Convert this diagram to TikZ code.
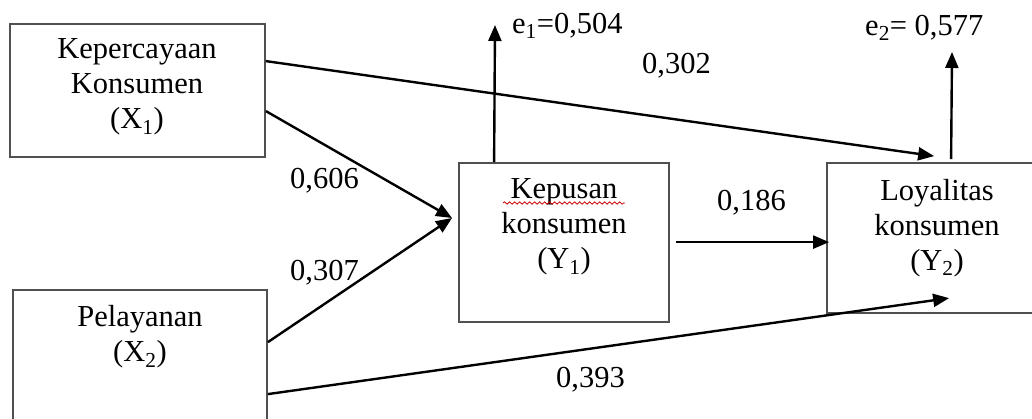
\documentclass[tikz,border=0pt]{standalone}
\usepackage{fontspec}
\setmainfont{Liberation Serif}
\usetikzlibrary{arrows.meta,decorations.pathmorphing}
\definecolor{boxgray}{RGB}{80,80,80}
\begin{document}
\begin{tikzpicture}[x=1pt,y=-1pt,
  box/.style={draw=boxgray,line width=1.8pt,inner sep=0pt},
  txt/.style={align=center,inner sep=0pt,font=\fontsize{30.5}{35}\selectfont},
  lbl/.style={anchor=base west,inner sep=0pt,font=\fontsize{30.5}{35}\selectfont},
  link/.style={line width=2.4pt,-{Triangle[length=16pt,width=13pt]}},
  spell/.style={draw=red!80!black,line width=0.8pt,decorate,
    decoration={snake,amplitude=1.2pt,segment length=5pt}}]
\useasboundingbox (0,0) rectangle (1032,418);
\clip (0,0) rectangle (1032,418);

% variable boxes
\node[box,minimum width=255pt,minimum height=133pt] (bx1) at (137.5,90.5) {};
\node[box,minimum width=254pt,minimum height=160pt] (bx2) at (140,370) {};
\node[box,minimum width=210pt,minimum height=159pt] (bx3) at (564,242.5) {};
\node[box,minimum width=240pt,minimum height=150pt] (bx4) at (947,238) {};

% box texts
\node[txt] (t1) at (137,87) {Kepercayaan\\Konsumen\\(X\textsubscript{1})};
\node[txt] (t2) at (140,337) {Pelayanan\\(X\textsubscript{2})};
\node[txt] (t3) at (564,227) {Kepusan\\konsumen\\(Y\textsubscript{1})};
\node[txt] (t4) at (937,228) {Loyalitas\\konsumen\\(Y\textsubscript{2})};
\draw[spell] (503,203) -- (625,203);

% end points
\coordinate (jn) at (452,218);
\coordinate (e1tip) at (495,25);
\coordinate (e2tip) at (952,52);

% paths
\draw[link] ([yshift=-88pt]bx1.north east) -- (jn);
\draw[link] ([yshift=-53pt]bx2.north east) -- (jn);
\draw[link] ([yshift=-38pt]bx1.north east) -- ([xshift=108pt,yshift=6pt]bx4.north west);
\draw[link] ([yshift=-105pt]bx2.north east) -- ([xshift=123pt,yshift=-136pt]bx4.north west);
\draw[link] ([xshift=6pt,yshift=-80pt]bx3.north east) -- ([xshift=3pt,yshift=-80pt]bx4.north west);
\draw[link] ([xshift=36pt]bx3.north west) -- (e1tip);
\draw[link] ([xshift=125pt,yshift=3pt]bx4.north west) -- (e2tip);

% coefficients
\node[lbl] (le1) at (512,33) {e\textsubscript{1}=0,504};
\node[lbl] (le2) at (865,35) {e\textsubscript{2}= 0,577};
\node[lbl] (l302) at (642,73) {0,302};
\node[lbl] (l186) at (717,210) {0,186};
\node[lbl] (l606) at (290,188) {0,606};
\node[lbl] (l307) at (290,280) {0,307};
\node[lbl] (l393) at (556,387) {0,393};
\end{tikzpicture}
\end{document}
